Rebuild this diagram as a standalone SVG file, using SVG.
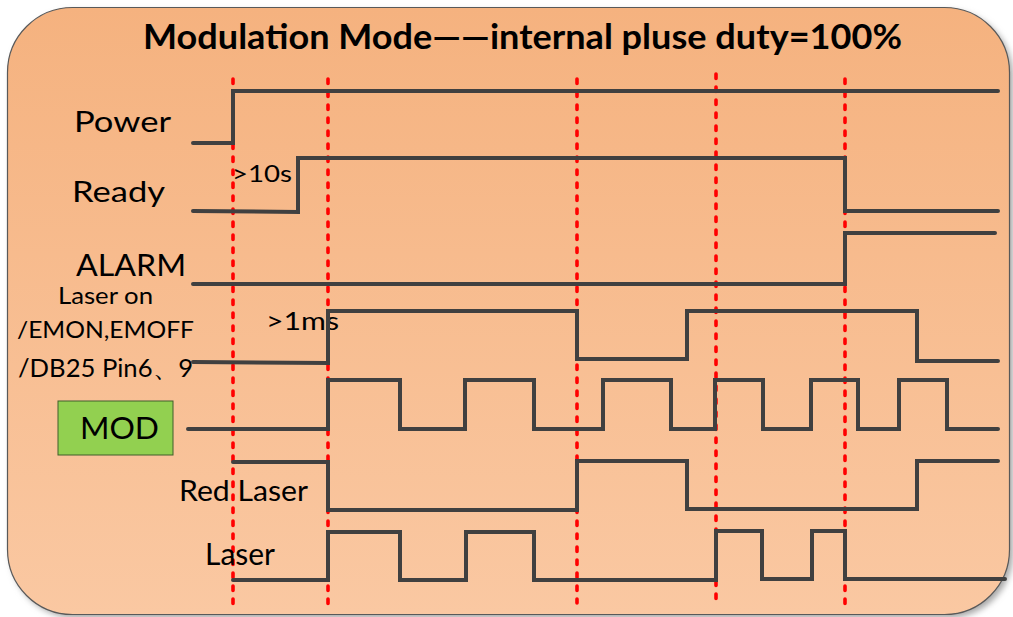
<svg xmlns="http://www.w3.org/2000/svg" width="1013" height="617" viewBox="0 0 1013 617">
  <style>
    .sig { fill: none; stroke: #404040; stroke-width: 4; stroke-linecap: round; stroke-linejoin: miter; }
    .mark { stroke: #FF0000; stroke-width: 3.6; stroke-dasharray: 4.5 8.5; stroke-linecap: round; fill: none; }
    .lbl { font-family: Lato, "Liberation Sans", sans-serif; fill: #000; }
  </style>
  <defs>
    <linearGradient id="bg" x1="0" y1="0" x2="0" y2="1">
      <stop offset="0" stop-color="#F5B27F"/>
      <stop offset="1" stop-color="#FAC8A2"/>
    </linearGradient>
    <filter id="sh" x="-5%" y="-5%" width="110%" height="110%">
      <feGaussianBlur stdDeviation="3"/>
    </filter>
  </defs>
  <rect width="1013" height="617" fill="#FFFFFF"/>
  <g id="panel">
    <rect x="11" y="11" width="1002" height="607" rx="65" ry="65" fill="#A6A6A6" filter="url(#sh)"/>
    <rect x="7.5" y="7.5" width="1002" height="607" rx="65" ry="65" fill="url(#bg)" stroke="#595959" stroke-width="1.2"/>
  </g>
  <g id="title">
    <text class="lbl" x="143" y="49" font-size="33.5" font-weight="bold" textLength="759" lengthAdjust="spacingAndGlyphs">Modulation Mode——internal pluse duty=100%</text>
  </g>
  <g id="connectors">
    <line class="mark" x1="233" y1="79" x2="233" y2="605"/>
    <line class="mark" x1="328" y1="79" x2="328" y2="605"/>
    <line class="mark" x1="577" y1="79" x2="577" y2="603"/>
    <line class="mark" x1="716" y1="74" x2="716" y2="601"/>
    <line class="mark" x1="845" y1="79" x2="845" y2="605"/>
  </g>
  <g id="power">
    <text class="lbl" x="74" y="132" font-size="29" textLength="97" lengthAdjust="spacingAndGlyphs">Power</text>
    <path class="sig" d="M193,143 H233 V91 H998"/>
  </g>
  <g id="ready">
    <text class="lbl" x="72" y="202" font-size="29" textLength="93" lengthAdjust="spacingAndGlyphs">Ready</text>
    <text class="lbl" x="232" y="182" font-size="24" textLength="60" lengthAdjust="spacingAndGlyphs">&gt;10s</text>
    <path class="sig" d="M193,211 L298,212 V158 H845 V211 H998"/>
  </g>
  <g id="alarm">
    <text class="lbl" x="76" y="276" font-size="31" textLength="110" lengthAdjust="spacingAndGlyphs">ALARM</text>
    <path class="sig" d="M193,284 H845 V233 H995"/>
  </g>
  <g id="laser-on">
    <text class="lbl" x="58" y="304" font-size="23.5" textLength="95" lengthAdjust="spacingAndGlyphs">Laser on</text>
    <text class="lbl" x="17" y="338" font-size="24" textLength="177" lengthAdjust="spacingAndGlyphs">/EMON,EMOFF</text>
    <text class="lbl" x="18" y="377" font-size="25" textLength="175" lengthAdjust="spacingAndGlyphs">/DB25 Pin6、9</text>
    <text class="lbl" x="266" y="330" font-size="25" textLength="73" lengthAdjust="spacingAndGlyphs">&gt;1ms</text>
    <path class="sig" d="M193,362 L328,363 V311 H577 V359 H687 V311 H917 V361 H998"/>
  </g>
  <g id="mod">
    <rect x="58" y="401" width="115" height="54" fill="#92D050" stroke="#3F5F2A" stroke-width="1"/>
    <text class="lbl" x="80" y="439" font-size="31" textLength="79" lengthAdjust="spacingAndGlyphs">MOD</text>
    <path class="sig" d="M188,429 H328 V380 H400 V429 H465 V380 H534 V429 H603 V380 H671 V429 H715 V380 H763 V429 H811 V380 H858 V429 H899 V380 H947 V429 H998"/>
  </g>
  <g id="red-laser">
    <text class="lbl" x="179" y="501" font-size="29" textLength="129" lengthAdjust="spacingAndGlyphs">Red Laser</text>
    <path class="sig" d="M233,462 H328 V510 H577 V461 H687 V509 H917 V461 H998"/>
  </g>
  <g id="laser">
    <text class="lbl" x="205" y="565" font-size="30" textLength="70" lengthAdjust="spacingAndGlyphs">Laser</text>
    <path class="sig" d="M233,580 H328 V532 H400 V580 H466 V532 H534 V580 H716 V531 H762 V579 H812 V531 H845 V579 H1005"/>
  </g>
</svg>
